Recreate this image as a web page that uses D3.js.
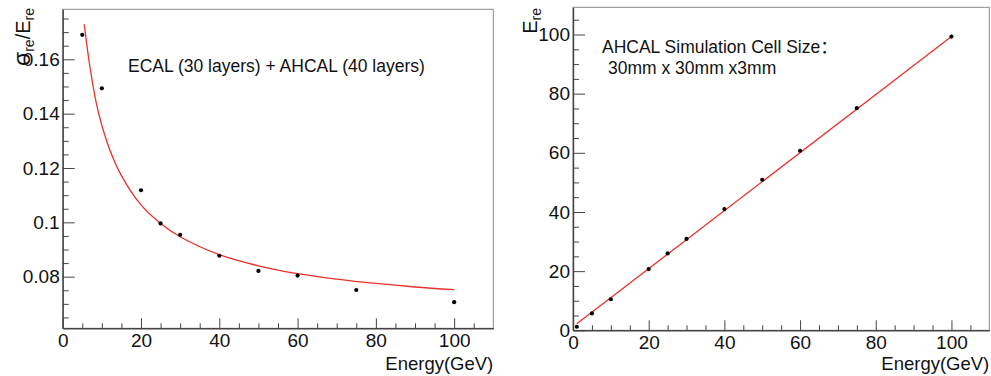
<!DOCTYPE html>
<html>
<head>
<meta charset="utf-8">
<script src="https://cdn.jsdelivr.net/npm/d3@7"></script>
<style>
  html, body { margin: 0; padding: 0; background: #fff; }
  svg { display: block; font-family: "Liberation Sans", Arial, Helvetica, sans-serif; }
  text { fill: #111; }
</style>
</head>
<body>
<svg id="chart" width="991" height="376"></svg>
<script>
// ---------- data ----------
// Left panel: energy resolution
const resEnergy = [5, 10, 20, 25, 30, 40, 50, 60, 75, 100];
const resValue  = [0.1690, 0.1493, 0.1118, 0.0996, 0.0954, 0.0877, 0.0821, 0.0804, 0.0751, 0.0706];
// fitted curve
const resFitEnergy = [5.5, 7, 9, 12, 15, 20, 25, 30, 40, 50, 60, 70, 80, 90, 100];
const resFitValue  = [0.1729, 0.1568, 0.1412, 0.1268, 0.1172, 0.1064, 0.0996, 0.0947, 0.0881, 0.0840, 0.0811, 0.0791, 0.0775, 0.0762, 0.0752];
const resYTicks = [0.08, 0.1, 0.12, 0.14, 0.16];
const resYTickLabels = ["0.08", "0.1", "0.12", "0.14", "0.16"];

// Right panel: reconstructed energy (linearity)
const linEnergy = [1, 5, 10, 20, 25, 30, 40, 50, 60, 75, 100];
const linValue  = [1.2, 5.7, 10.5, 20.7, 26.0, 30.9, 41.0, 50.9, 60.7, 75.1, 99.3];
const linFitEnergy = [1, 100];
const linFitValue  = [2.2, 99.3];
const linYTicks = [0, 20, 40, 60, 80, 100];
const linYTickLabels = ["0", "20", "40", "60", "80", "100"];

const xTicks = [0, 20, 40, 60, 80, 100];
const xTickLabels = ["0", "20", "40", "60", "80", "100"];

// ---------- drawing ----------
const svg = d3.select("#chart");
const RED = "#e8312b";
const AXIS = "#444";
const FRAME = "#8a8a8a";
const FS = 19;

function panel(opt) {
  const g = svg.append("g");
  const x = d3.scaleLinear().domain(opt.xDomain).range([opt.left, opt.right]);
  const y = d3.scaleLinear().domain(opt.yDomain).range([opt.bottom, opt.top]);

  // frame
  g.append("rect")
    .attr("x", opt.left).attr("y", opt.top)
    .attr("width", opt.right - opt.left).attr("height", opt.bottom - opt.top)
    .attr("fill", "none").attr("stroke", FRAME).attr("stroke-width", 1);

  // minor x ticks
  g.append("g").attr("transform", `translate(0,${opt.bottom})`)
    .call(d3.axisBottom(x).tickValues(opt.xMinor).tickSize(-5).tickSizeOuter(0).tickFormat(""))
    .call(s => s.select(".domain").remove())
    .call(s => s.selectAll("line").attr("stroke", AXIS));
  // major x ticks
  const xa = g.append("g").attr("transform", `translate(0,${opt.bottom})`)
    .call(d3.axisBottom(x).tickValues(xTicks).tickSize(-10).tickSizeOuter(0).tickPadding(5)
      .tickFormat((d, i) => xTickLabels[i]));
  xa.select(".domain").attr("stroke", AXIS).attr("stroke-width", 1.4);
  xa.selectAll("line").attr("stroke", AXIS);
  xa.selectAll("text").attr("font-size", FS).attr("font-family", "Liberation Sans, Arial, sans-serif").attr("fill", "#111");

  // minor y ticks
  g.append("g").attr("transform", `translate(${opt.left},0)`)
    .call(d3.axisLeft(y).tickValues(opt.yMinor).tickSize(-6).tickSizeOuter(0).tickFormat(""))
    .call(s => s.select(".domain").remove())
    .call(s => s.selectAll("line").attr("stroke", AXIS));
  // major y ticks
  const ya = g.append("g").attr("transform", `translate(${opt.left},0)`)
    .call(d3.axisLeft(y).tickValues(opt.yTicks).tickSize(-12).tickSizeOuter(0).tickPadding(3)
      .tickFormat((d, i) => opt.yTickLabels[i]));
  ya.select(".domain").attr("stroke", AXIS).attr("stroke-width", 1.4);
  ya.selectAll("line").attr("stroke", AXIS);
  ya.selectAll("text").attr("font-size", FS).attr("font-family", "Liberation Sans, Arial, sans-serif").attr("fill", "#111");

  // fit line
  const line = d3.line().x(d => x(d[0])).y(d => y(d[1])).curve(opt.curve);
  g.append("path")
    .datum(opt.fitX.map((v, i) => [v, opt.fitY[i]]))
    .attr("d", line)
    .attr("fill", "none").attr("stroke", RED).attr("stroke-width", 1.3);

  // points
  g.selectAll("circle.pt")
    .data(opt.dataX.map((v, i) => [v, opt.dataY[i]]))
    .join("circle").attr("class", "pt")
    .attr("cx", d => x(d[0])).attr("cy", d => y(d[1]))
    .attr("r", 2.1).attr("fill", "#000");

  // x title
  g.append("text")
    .attr("x", opt.right).attr("y", 369.5)
    .attr("text-anchor", "end").attr("font-size", 18.5)
    .text("Energy(GeV)");

  return { g, x, y };
}

const minorX = d3.range(0, 110, 5).filter(v => v % 20 !== 0);

const L = panel({
  left: 62.7, right: 493.3, top: 9.3, bottom: 328.3,
  xDomain: [0, 110], yDomain: [0.061, 0.1784],
  xMinor: minorX,
  yMinor: d3.range(0.065, 0.178, 0.005).filter(v => Math.abs(Math.round(v * 50) - v * 50) > 1e-6),
  yTicks: resYTicks, yTickLabels: resYTickLabels,
  fitX: resFitEnergy, fitY: resFitValue, curve: d3.curveCatmullRom,
  dataX: resEnergy, dataY: resValue
});

const R = panel({
  left: 573, right: 989.3, top: 7.3, bottom: 330.3,
  xDomain: [0, 110], yDomain: [0, 109.2],
  xMinor: minorX,
  yMinor: d3.range(5, 109, 5).filter(v => v % 20 !== 0),
  yTicks: linYTicks, yTickLabels: linYTickLabels,
  fitX: linFitEnergy, fitY: linFitValue, curve: d3.curveLinear,
  dataX: linEnergy, dataY: linValue
});

// y titles (rotated)
const ly = svg.append("text")
  .attr("transform", "translate(30,8) rotate(-90)")
  .attr("text-anchor", "end").attr("font-size", 20);
ly.append("tspan").attr("font-size", 23).text("σ");
ly.append("tspan").attr("font-size", 14).attr("dy", 4).text("re");
ly.append("tspan").attr("dy", -4).text("/E");
ly.append("tspan").attr("font-size", 14).attr("dy", 4).text("re");

const ry = svg.append("text")
  .attr("transform", "translate(537,8) rotate(-90)")
  .attr("text-anchor", "end").attr("font-size", 20);
ry.append("tspan").text("E");
ry.append("tspan").attr("font-size", 14).attr("dy", 4).text("re");

// annotations
svg.append("text")
  .attr("x", 128).attr("y", 72).attr("font-size", 17.5)
  .text("ECAL (30 layers) + AHCAL (40 layers)");

svg.append("text")
  .attr("x", 602).attr("y", 52.5).attr("font-size", 17.5)
  .attr("font-family", "Liberation Sans, Arial, 'Noto Sans CJK SC', sans-serif")
  .text("AHCAL Simulation Cell Size：");
svg.append("text")
  .attr("x", 608).attr("y", 74).attr("font-size", 17.5)
  .text("30mm x 30mm x3mm");
</script>
</body>
</html>
